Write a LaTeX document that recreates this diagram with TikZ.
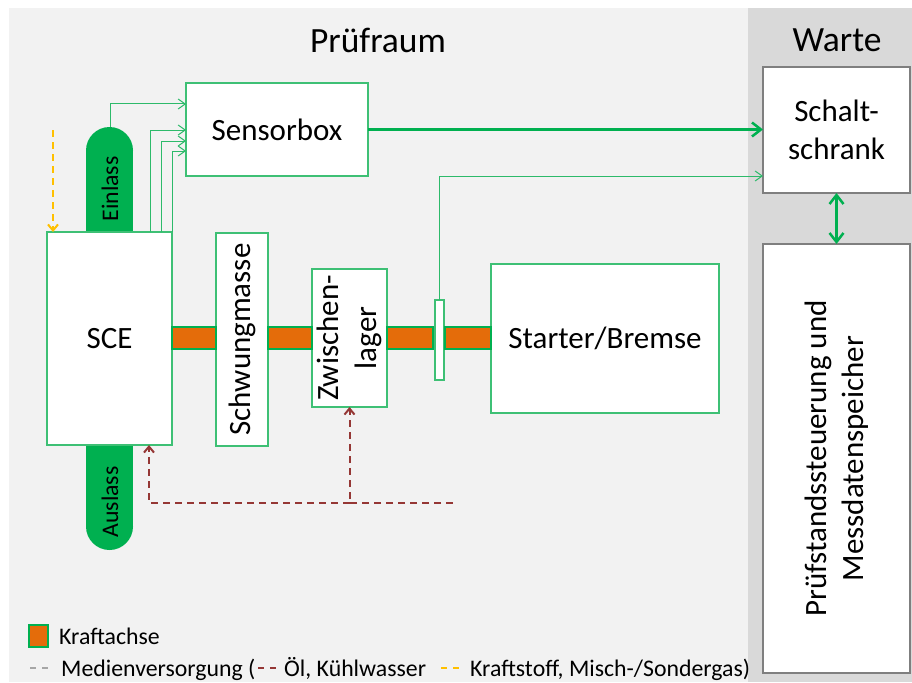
\documentclass[tikz,border=0pt]{standalone}
\usepackage{fontspec}
\setmainfont{Carlito}
\usetikzlibrary{arrows.meta}

\definecolor{roombg}{HTML}{F2F2F2}
\definecolor{wartebg}{HTML}{D9D9D9}
\definecolor{dgreen}{HTML}{00B050}
\definecolor{lgreen}{HTML}{3EC075}
\definecolor{sgreen}{HTML}{2DBA6A}
\definecolor{shaftor}{HTML}{E46C0A}
\definecolor{oilbrown}{HTML}{953735}
\definecolor{fuelyel}{HTML}{FFC000}
\definecolor{boxgray}{HTML}{7F7F7F}
\definecolor{leggray}{HTML}{A6A6A6}

\newcommand{\titlefont}{\fontsize{35.5}{42}\selectfont}
\newcommand{\boxfont}{\fontsize{31}{37.5}\selectfont}
\newcommand{\smallfont}{\fontsize{23.8}{28}\selectfont}

\tikzset{
  unit/.style={draw=lgreen, fill=white, line width=1.3, inner sep=0pt, outer sep=0pt, align=center, font=\boxfont},
  ctrl/.style={draw=boxgray, fill=white, line width=2, inner sep=0pt, outer sep=0pt, align=center, font=\boxfont},
  shaft/.style={draw=dgreen, fill=shaftor, line width=2},
  sig/.style={draw=sgreen, line width=1, -{Straight Barb[length=7pt,width=10pt]}},
  bigsig/.style={draw=dgreen, line width=2.5, -{Straight Barb[length=9pt,width=14pt]}},
  dblsig/.style={draw=dgreen, line width=2.5, {Straight Barb[length=9pt,width=14pt]}-{Straight Barb[length=9pt,width=14pt]}},
  oil/.style={draw=oilbrown, line width=2, dash pattern=on 7pt off 5pt, -{Straight Barb[length=6pt,width=10pt]}},
  fuel/.style={draw=fuelyel, line width=2, dash pattern=on 7pt off 5pt, -{Straight Barb[length=6pt,width=10pt]}},
  pilltxt/.style={font=\smallfont, rotate=90, inner sep=0pt},
  legtxt/.style={font=\smallfont, anchor=base west, inner sep=0pt},
  legdash/.style={line width=2, dash pattern=on 6pt off 6pt}
}

\begin{document}
\begin{tikzpicture}[x=1pt,y=-1pt]
\useasboundingbox (0,0) rectangle (912,682);

% room backgrounds
\fill[roombg] (9,8) rectangle (748,682);
\fill[wartebg] (748,8) rectangle (912,682);

\node[font=\titlefont] (traum) at (378,40) {Prüfraum};
\node[font=\titlefont] (twarte) at (837,40) {Warte};

% intake and exhaust pipes
\fill[dgreen] (86,150.5) rectangle (133,233);
\fill[dgreen] (109.5,150.5) circle[radius=23.5];
\fill[dgreen] (86,444) rectangle (133,526.5);
\fill[dgreen] (109.5,526.5) circle[radius=23.5];
\coordinate (eintop) at (110.5,127);

% engine, drive train and brake
\node[unit, minimum width=125, minimum height=213] (sce) at (109.5,338.5) {SCE};
\node[unit, rotate=90, minimum width=213, minimum height=52] (schw) at (242,339.5) {Schwungmasse};
\node[unit, rotate=90, minimum width=138, minimum height=75] (zwl) at (349.5,338) {Zwischen-\\lager};
\node[unit, minimum width=9, minimum height=80] (clutch) at (439.5,340) {};
\node[unit, minimum width=228, minimum height=149] (starter) at (605,338.5) {Starter/Bremse};

% shaft segments between the units
\draw[shaft] (sce.east |- 0,327) rectangle (schw.north |- 0,349);
\draw[shaft] (schw.south |- 0,327) rectangle (zwl.north |- 0,349);
\draw[shaft] (zwl.south |- 0,327) rectangle ([xshift=-2pt]clutch.west |- 0,349);
\draw[shaft] ([xshift=1pt]clutch.east |- 0,327) rectangle (starter.west |- 0,349);

\node[pilltxt] (ein) at (110,189) {Einlass};
\node[pilltxt] (aus) at (110,502) {Auslass};

\node[unit, minimum width=182, minimum height=93] (sensor) at (277,129.5) {Sensorbox};
\node[ctrl, minimum width=147, minimum height=126] (schalt) at (836.5,130) {Schalt-\\schrank};
\node[ctrl, rotate=90, minimum width=429, minimum height=147] (pruef) at (836.5,458.5) {Prüfstandssteuerung und\\Messdatenspeicher};

% measurement signals
\draw[sig] (eintop) |- (sensor.west |- 0,104);
\draw[sig] (sce.north -| 150,0) |- (sensor.west |- 0,130);
\draw[sig] (sce.north -| 161,0) |- (sensor.west |- 0,141);
\draw[sig] (sce.north east) |- (sensor.west |- 0,151);
\draw[sig] (clutch.north) |- (schalt.west |- 0,176);
\draw[bigsig] (sensor.east) -- (sensor.east -| schalt.west);
\draw[dblsig] (schalt.south) -- (pruef.east);

% media supply
\coordinate (fuelin) at (53,130);
\draw[fuel] (fuelin) -- (sce.north -| fuelin);
\coordinate (oilin) at (453,503);
\draw[oil] (oilin) -| (zwl.west);
\draw[oil] (zwl.west |- oilin) -| (sce.south -| 149,0);

% legend
\node[shaft, minimum width=19, minimum height=22, inner sep=0pt] (legbox) at (38.5,636) {};
\node[legtxt] (legk) at (59,644) {Kraftachse};
\draw[legdash, draw=leggray] (30,668) -- (48,668);
\node[legtxt] (legm) at (61,676) {Medienversorgung (};
\draw[legdash, draw=oilbrown] (258,668) -- (280,668);
\node[legtxt] (legoil) at (284,676) {Öl, Kühlwasser};
\draw[legdash, draw=fuelyel] (441,668) -- (463,668);
\node[legtxt] (legfuel) at (470,676) {Kraftstoff, Misch-/Sondergas)};
\end{tikzpicture}
\end{document}
